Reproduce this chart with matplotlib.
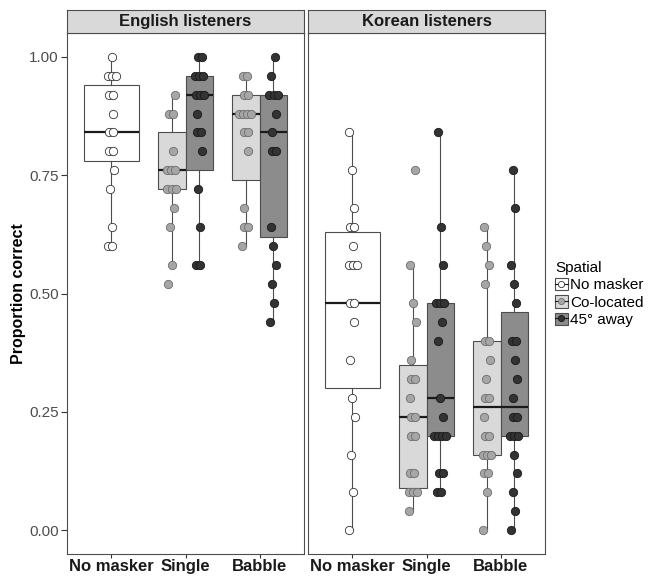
import numpy as np
import matplotlib
matplotlib.use("Agg")
import matplotlib.pyplot as plt
from matplotlib.patches import Patch
from matplotlib.lines import Line2D
from matplotlib.legend_handler import HandlerTuple

plt.rcParams['font.family'] = ['Liberation Sans', 'DejaVu Sans']

masker_labels = ['No masker', 'Single', 'Babble']
spatial_labels = ['No masker', 'Co-located', '45° away']
panel_titles = ['English listeners', 'Korean listeners']

# proportion correct per listener, one list per condition
eng_none = [1.00, 0.96, 0.96, 0.96, 0.92, 0.92, 0.88, 0.84, 0.84, 0.80, 0.80,
            0.76, 0.72, 0.64, 0.60, 0.60]
eng_single_co = [0.92, 0.88, 0.88, 0.80, 0.76, 0.76, 0.76, 0.72, 0.72, 0.72,
                 0.68, 0.64, 0.56, 0.52]
eng_single_45 = [1.00, 1.00, 0.96, 0.96, 0.96, 0.92, 0.92, 0.92, 0.88, 0.84,
                 0.84, 0.80, 0.72, 0.64, 0.56, 0.56]
eng_babble_co = [0.96, 0.96, 0.92, 0.92, 0.88, 0.88, 0.88, 0.88, 0.84, 0.84,
                 0.80, 0.68, 0.64, 0.64, 0.60]
eng_babble_45 = [1.00, 0.96, 0.92, 0.92, 0.92, 0.88, 0.84, 0.80, 0.80, 0.64,
                 0.60, 0.56, 0.52, 0.48, 0.44]

kor_none = [0.84, 0.76, 0.68, 0.64, 0.64, 0.60, 0.56, 0.56, 0.56, 0.48, 0.48,
            0.44, 0.36, 0.28, 0.24, 0.16, 0.08, 0.00]
kor_single_co = [0.76, 0.56, 0.48, 0.44, 0.36, 0.32, 0.32, 0.28, 0.24, 0.24,
                 0.20, 0.20, 0.12, 0.12, 0.08, 0.08, 0.08, 0.04]
kor_single_45 = [0.84, 0.64, 0.56, 0.48, 0.48, 0.48, 0.44, 0.40, 0.28, 0.24,
                 0.20, 0.20, 0.20, 0.20, 0.12, 0.12, 0.08, 0.08]
kor_babble_co = [0.64, 0.60, 0.56, 0.52, 0.40, 0.40, 0.36, 0.32, 0.28, 0.28,
                 0.24, 0.20, 0.20, 0.16, 0.16, 0.16, 0.12, 0.12, 0.08, 0.00]
kor_babble_45 = [0.76, 0.68, 0.56, 0.52, 0.48, 0.40, 0.40, 0.36, 0.32, 0.28,
                 0.24, 0.24, 0.20, 0.20, 0.20, 0.16, 0.12, 0.08, 0.04, 0.00]

# box summaries: q1, median, q3, lower whisker, upper whisker
eng_q1 = [0.78, 0.72, 0.76, 0.74, 0.62]
eng_med = [0.84, 0.76, 0.92, 0.88, 0.84]
eng_q3 = [0.94, 0.84, 0.96, 0.92, 0.92]
eng_wlo = [0.60, 0.56, 0.56, 0.60, 0.44]
eng_whi = [1.00, 0.92, 1.00, 0.96, 1.00]

kor_q1 = [0.30, 0.09, 0.20, 0.16, 0.20]
kor_med = [0.48, 0.24, 0.28, 0.26, 0.26]
kor_q3 = [0.63, 0.35, 0.48, 0.40, 0.46]
kor_wlo = [0.00, 0.04, 0.08, 0.00, 0.00]
kor_whi = [0.84, 0.56, 0.84, 0.64, 0.76]

# which masker / spatial level each of the 5 boxes belongs to
box_masker = [0, 1, 1, 2, 2]
box_spatial = [0, 1, 2, 1, 2]

box_fill = ['white', '#d9d9d9', '#8c8c8c']
dot_fill = ['white', '#a6a6a6', '#333333']
dot_edge = ['#333333', '#6e6e6e', '#1a1a1a']

panels = [
    ([eng_none, eng_single_co, eng_single_45, eng_babble_co, eng_babble_45],
     eng_q1, eng_med, eng_q3, eng_wlo, eng_whi),
    ([kor_none, kor_single_co, kor_single_45, kor_babble_co, kor_babble_45],
     kor_q1, kor_med, kor_q3, kor_wlo, kor_whi),
]


def box_center(k):
    x = box_masker[k] + 1
    if box_spatial[k] == 0:
        return x, 0.75
    off = -0.1875 if box_spatial[k] == 1 else 0.1875
    return x + off, 0.375


def spread(values, center):
    """Spread points sideways so tied scores sit next to each other."""
    xs = np.zeros(len(values))
    vals = np.array(values)
    for i, v in enumerate(np.unique(vals)):
        idx = np.where(vals == v)[0]
        base = ((i * 0.618) % 1 - 0.5) * 0.09
        k = len(idx)
        offs = (np.arange(k) - (k - 1) / 2) * 0.055
        xs[idx] = center + np.clip(base * (1 if k == 1 else 0.3) + offs, -0.09, 0.09)
    return xs


W, H = 652, 576
fig = plt.figure(figsize=(W / 100, H / 100), dpi=100)

panel_left = [67, 308]
panel_w = 237
top, bottom = 33, 554
strip_h = 23

for p, (series, q1, med, q3, wlo, whi) in enumerate(panels):
    ax = fig.add_axes([panel_left[p] / W, 1 - bottom / H,
                       panel_w / W, (bottom - top) / H])
    sax = fig.add_axes([panel_left[p] / W, 1 - top / H,
                        panel_w / W, strip_h / H])
    sax.set_facecolor('#d9d9d9')
    sax.set_xticks([])
    sax.set_yticks([])
    for s in sax.spines.values():
        s.set_color('#4d4d4d')
        s.set_linewidth(0.8)
    sax.text(0.5, 0.48, panel_titles[p], ha='center', va='center',
             fontsize=12, fontweight='bold', color='#1a1a1a',
             transform=sax.transAxes)

    for k in range(5):
        xc, w = box_center(k)
        sp = box_spatial[k]
        stats = [dict(q1=q1[k], med=med[k], q3=q3[k],
                      whislo=wlo[k], whishi=whi[k], fliers=[])]
        ax.bxp(stats, positions=[xc], widths=[w], patch_artist=True,
               showcaps=False, showfliers=False,
               boxprops=dict(facecolor=box_fill[sp], edgecolor='#4d4d4d',
                             linewidth=0.8),
               whiskerprops=dict(color='#4d4d4d', linewidth=0.8),
               medianprops=dict(color='#1a1a1a', linewidth=1.6),
               zorder=2)
        xs = spread(series[k], xc)
        ax.scatter(xs, series[k], s=36, c=dot_fill[sp],
                   edgecolors=dot_edge[sp], linewidths=0.6, zorder=3)

    ax.set_xlim(0.4, 3.6)
    ax.set_ylim(-0.05, 1.05)
    ax.set_xticks([1, 2, 3])
    ax.set_xticklabels(masker_labels, fontsize=12, fontweight='bold',
                       color='#1a1a1a')
    ax.set_yticks([0, 0.25, 0.5, 0.75, 1.0])
    if p == 0:
        ax.set_yticklabels(['0.00', '0.25', '0.50', '0.75', '1.00'],
                           fontsize=11, color='#4d4d4d')
        ax.set_ylabel('Proportion correct', fontsize=11.5, fontweight='bold',
                      labelpad=2)
    else:
        ax.tick_params(axis='y', left=False, labelleft=False)
    ax.tick_params(axis='y', length=4, width=0.8, color='#333333', pad=2)
    ax.tick_params(axis='x', length=3, width=0.8, color='#333333', pad=0.5)
    for s in ax.spines.values():
        s.set_color('#4d4d4d')
        s.set_linewidth(0.8)

handles = []
for sp in range(3):
    handles.append((Patch(facecolor=box_fill[sp], edgecolor='#4d4d4d',
                          linewidth=0.8),
                    Line2D([], [], color='#1a1a1a', linewidth=0.8, marker='o',
                           markersize=4.5, markerfacecolor=dot_fill[sp],
                           markeredgecolor=dot_edge[sp],
                           markeredgewidth=0.6)))
fig.legend(handles, spatial_labels, title='Spatial',
           handler_map={tuple: HandlerTuple(ndivide=1, pad=0)},
           loc='center left', bbox_to_anchor=(555 / W, 1 - 294 / H),
           frameon=False, fontsize=11, title_fontsize=11,
           handlelength=0.85, handleheight=0.85, handletextpad=0.15,
           labelspacing=0.2, borderpad=0, borderaxespad=0,
           alignment='left')

fig.savefig('out.png', dpi=100)
